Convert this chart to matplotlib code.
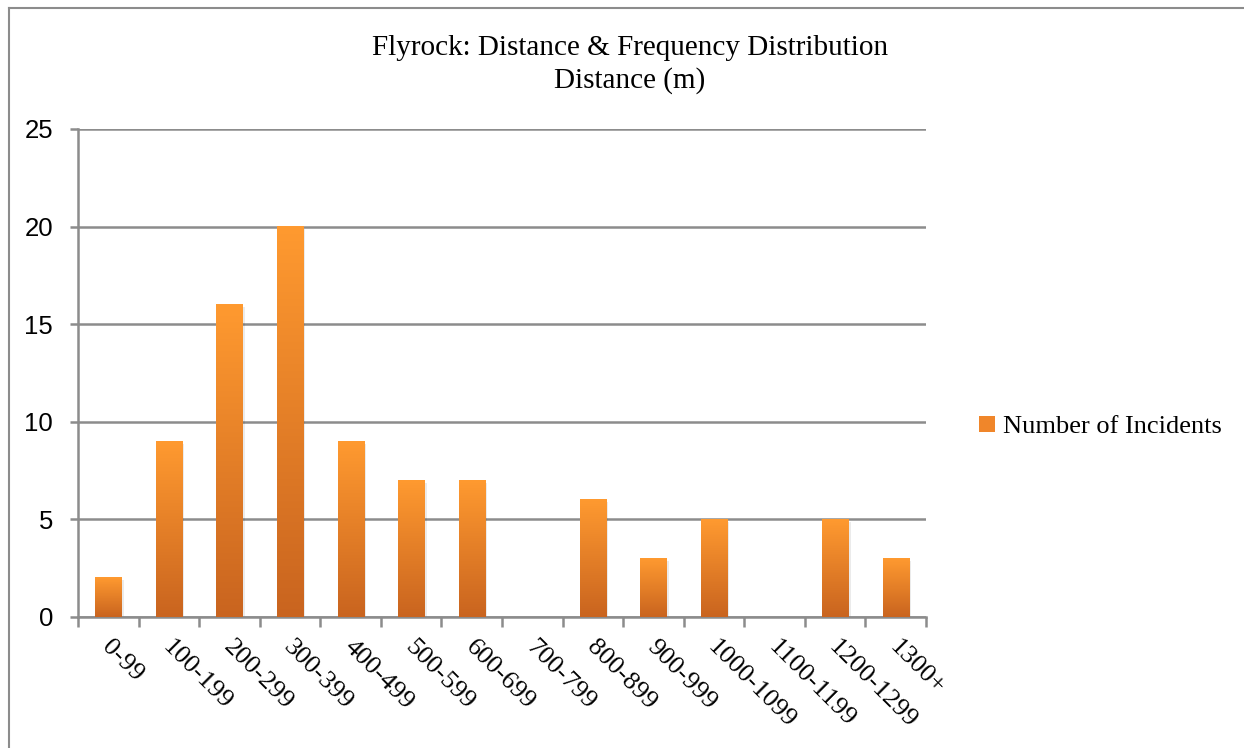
import matplotlib
matplotlib.use("Agg")
import matplotlib.pyplot as plt
import numpy as np
import matplotlib.transforms as mtrans
from matplotlib.patches import Patch
from matplotlib.lines import Line2D
from matplotlib.colors import LinearSegmentedColormap

categories = ["0-99", "100-199", "200-299", "300-399", "400-499", "500-599", "600-699",
              "700-799", "800-899", "900-999", "1000-1099", "1100-1199", "1200-1299", "1300+"]
incidents = [2, 9, 16, 20, 9, 7, 7, 0, 6, 3, 5, 0, 5, 3]
yticks = [0, 5, 10, 15, 20, 25]

W, H = 1244, 748
fig = plt.figure(figsize=(W / 100, H / 100), dpi=100)
ax = fig.add_axes([78 / W, 1 - 617 / H, (926 - 78) / W, (617 - 129) / H])

grid_c = "#8c8c8c"
top_c = "#ff9a30"
bot_c = "#c9641f"
cmap = LinearSegmentedColormap.from_list("og", [bot_c, top_c])

x = np.arange(len(categories))
bars = ax.bar(x, incidents, width=0.43, color=top_c, zorder=3)
grad = np.linspace(0, 1, 256).reshape(-1, 1)
for b in bars:
    h = b.get_height()
    if h <= 0:
        b.set_visible(False)
        continue
    x0 = b.get_x()
    w = b.get_width()
    ax.bar(x0 + w / 2 + 0.04, h, width=w, bottom=-0.12, color="#000000", alpha=0.08, zorder=2.5)
    ax.imshow(grad, extent=[x0, x0 + w, 0, h], origin="lower", aspect="auto",
              cmap=cmap, zorder=3.5)
    b.set_alpha(0)

ax.set_xlim(-0.5, len(categories) - 0.5)
ax.set_ylim(0, 25)
ax.set_yticks(yticks)
ax.yaxis.grid(True, color=grid_c, linewidth=1.8, zorder=1)
ax.set_axisbelow(True)

for s in ["top", "right"]:
    ax.spines[s].set_visible(False)
for s in ["left", "bottom"]:
    ax.spines[s].set_color(grid_c)
    ax.spines[s].set_linewidth(1.8)

ax.tick_params(axis="y", length=6, width=1.8, color=grid_c, pad=12,
               labelsize=18.5, labelfontfamily="Liberation Sans")
ax.set_xticks(x)
ax.set_xticklabels(categories, rotation=-45, ha="left", va="top", rotation_mode="anchor",
                   fontfamily="Liberation Serif", fontsize=19)
ax.tick_params(axis="x", length=0, pad=14)
ax.set_xticks(np.arange(-0.5, len(categories)), minor=True)
ax.tick_params(axis="x", which="minor", length=7, width=1.8, color=grid_c)
offset = mtrans.ScaledTranslation(5 / 100, 0, fig.dpi_scale_trans)
for lab in ax.get_xticklabels():
    lab.set_transform(lab.get_transform() + offset)

fig.text(630 / W, 1 - 48 / H, "Flyrock: Distance & Frequency Distribution", ha="center", va="center",
         fontfamily="Liberation Serif", fontsize=21)
fig.text(630 / W, 1 - 81 / H, "Distance (m)", ha="center", va="center",
         fontfamily="Liberation Serif", fontsize=21)

handle = Patch(facecolor="#f0862a", edgecolor="none")
fig.legend([handle], ["Number of Incidents"], loc="center left", bbox_to_anchor=(979 / W, 1 - 427 / H),
           frameon=False, handlelength=0.6, handleheight=0.6, handletextpad=0.3, borderpad=0,
           borderaxespad=0, prop={"family": "Liberation Serif", "size": 19})

fig.add_artist(Line2D([9 / W, 1], [1 - 8 / H, 1 - 8 / H], color=grid_c, linewidth=1.5))
fig.add_artist(Line2D([9 / W, 9 / W], [0, 1 - 8 / H], color=grid_c, linewidth=1.5))

fig.savefig("out.png", dpi=100)
